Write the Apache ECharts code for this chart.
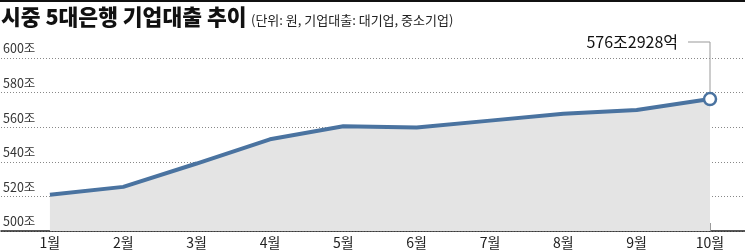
<!DOCTYPE html>
<html>
<head>
<meta charset="utf-8">
<script src="https://cdn.jsdelivr.net/npm/echarts@6/dist/echarts.min.js"></script>
<style>
  html, body { margin: 0; padding: 0; background: #fff; }
  #chart { width: 745px; height: 250px; }
</style>
</head>
<body>
<div id="chart"></div>
<script>
const months = ['1월', '2월', '3월', '4월', '5월', '6월', '7월', '8월', '9월', '10월'];
const loans = [521, 525.5, 539, 553, 560.5, 559.8, 563.8, 567.8, 570, 576.29];
const yTicks = [500, 520, 540, 560, 580, 600];
const lastLabel = '576조2928억';

const FONT = '"Noto Sans CJK KR", "Noto Sans", sans-serif';
const LINE_COLOR = '#4a73a0';

function headerGraphics() {
    return [
        { type: 'rect', left: 0, top: 0, shape: { width: 745, height: 2 }, style: { fill: '#111' } },
        {
            type: 'text', left: 1, top: 6,
            style: { text: '시중 5대은행 기업대출 추이', font: '900 21.5px ' + FONT, fill: '#111' }
        },
        {
            type: 'text', left: 251, top: 14,
            style: { text: '(단위: 원, 기업대출: 대기업, 중소기업)', font: '13px ' + FONT, fill: '#222' }
        }
    ];
}

function main() {
    const chart = echarts.init(document.getElementById('chart'));
    const lastIdx = loans.length - 1;

    const option = {
        animation: false,
        textStyle: { fontFamily: FONT },
        grid: { left: 0, right: 0, top: 58, bottom: 19 },
        graphic: headerGraphics(),
        xAxis: {
            type: 'value',
            min: -0.667,
            max: 9.477,
            splitLine: { show: false },
            axisLine: { show: true, onZero: false, lineStyle: { color: '#222', width: 1.5 } },
            axisTick: {
                show: true, inside: true, length: 8,
                customValues: months.map((m, i) => i),
                lineStyle: { color: '#999', width: 1 }
            },
            axisLabel: {
                customValues: months.map((m, i) => i),
                formatter: v => months[Math.round(v)],
                fontSize: 14, color: '#222', margin: 5
            }
        },
        yAxis: {
            type: 'value',
            min: 500,
            max: 600,
            interval: 20,
            axisLine: { show: false },
            axisTick: { show: false },
            splitLine: { lineStyle: { color: '#888', type: [1, 2], width: 1 } },
            axisLabel: {
                inside: true,
                margin: 2,
                verticalAlign: 'bottom',
                padding: [0, 0, 3, 0],
                fontSize: 12.5,
                color: '#333',
                formatter: v => yTicks.includes(v) ? v + '조' : ''
            }
        },
        series: [
            {
                type: 'line',
                data: loans.map((v, i) => [i, v]),
                symbol: 'circle',
                symbolSize: (v, p) => p.dataIndex === lastIdx ? 12 : 0,
                itemStyle: { color: '#fff', borderColor: LINE_COLOR, borderWidth: 2.5 },
                lineStyle: { color: LINE_COLOR, width: 4 },
                areaStyle: { color: '#e4e4e4', opacity: 1, origin: 'start' },
                z: 3
            }
        ]
    };

    chart.setOption(option);

    // leader line + label for the last point
    const p = chart.convertToPixel({ gridIndex: 0 }, [lastIdx, loans[lastIdx]]);
    const topY = 42;
    chart.setOption({
        graphic: headerGraphics().concat([
            {
                type: 'polyline', z: 1,
                shape: { points: [[p[0], p[1] - 6], [p[0], topY], [p[0] - 22, topY]] },
                style: { stroke: '#999', lineWidth: 1, fill: null }
            },
            {
                type: 'text', z: 1,
                x: p[0] - 32, y: topY,
                style: {
                    text: lastLabel, font: '16px ' + FONT, fill: '#111',
                    align: 'right', verticalAlign: 'middle'
                }
            }
        ])
    }, { replaceMerge: ['graphic'] });
}

main();
</script>
</body>
</html>
